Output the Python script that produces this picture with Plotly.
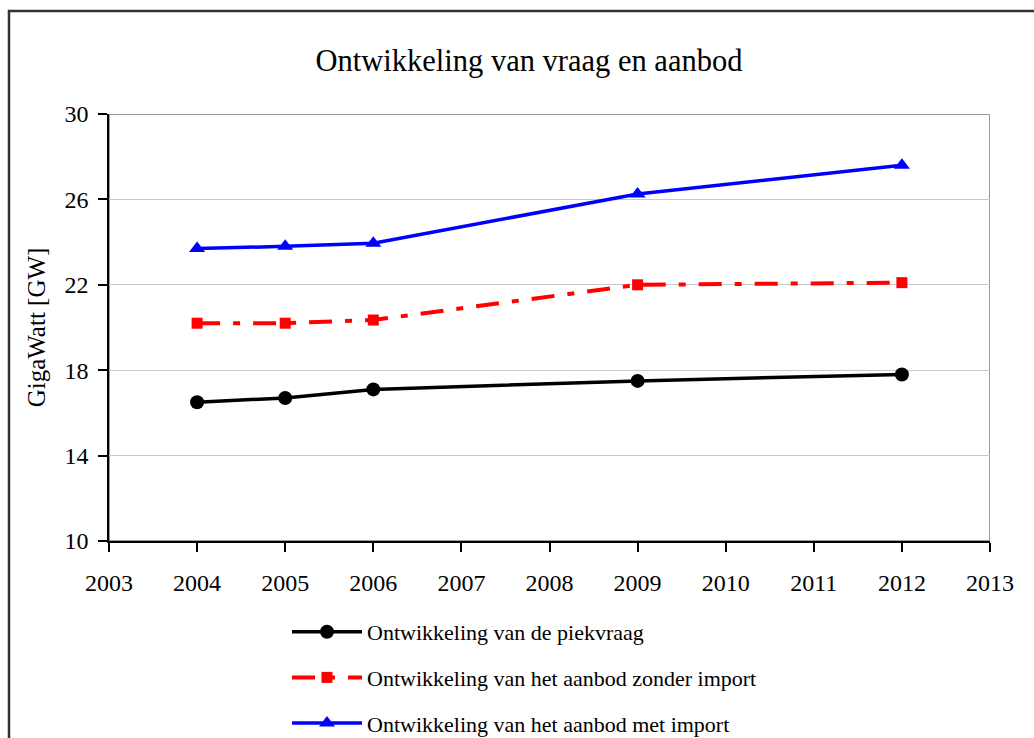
import plotly.graph_objects as go

years = [2004, 2005, 2006, 2009, 2012]
piekvraag = [16.5, 16.7, 17.1, 17.5, 17.8]
aanbod_zonder = [20.2, 20.2, 20.35, 22.0, 22.1]
aanbod_met = [23.7, 23.8, 23.95, 26.25, 27.6]

names = [
    "Ontwikkeling van de piekvraag",
    "Ontwikkeling van het aanbod zonder import",
    "Ontwikkeling van het aanbod met import",
]
title_text = "Ontwikkeling van vraag en aanbod"
y_title = "GigaWatt [GW]"
x_ticks = list(range(2003, 2014))
y_ticks = [10, 14, 18, 22, 26, 30]

FONT = "Liberation Serif"

W, H = 1034, 738
L, R, T, B = 109, 990, 114, 541

fig = go.Figure()
fig.add_trace(go.Scatter(
    x=years, y=piekvraag, name=names[0], mode="lines+markers", legendgroup="a",
    line=dict(color="black", width=3.5),
    marker=dict(symbol="circle", size=14, color="black"),
))
fig.add_trace(go.Scatter(
    x=years, y=aanbod_zonder, name=names[1], mode="lines+markers", legendgroup="b",
    line=dict(color="#ff0000", width=4, dash="23px,13px,7px,13px"),
    marker=dict(symbol="square", size=11, color="#ff0000"),
))
fig.add_trace(go.Scatter(
    x=years, y=aanbod_met, name=names[2], mode="lines+markers", legendgroup="c",
    line=dict(color="#0000ff", width=3.5),
    marker=dict(symbol="triangle-up", size=14, color="#0000ff"),
))

pw = R - L
ph = B - T
def px_x(p):
    return (p - L) / pw
def px_y(p):
    return (B - p) / ph

shapes = [
    dict(type="rect", xref="x", yref="y", x0=2003, x1=2013, y0=10, y1=30,
         line=dict(color="#999999", width=2), layer="below"),
    dict(type="rect", xref="paper", yref="paper",
         x0=px_x(9), x1=px_x(1080), y0=px_y(800), y1=px_y(11),
         line=dict(color="#333333", width=2.5), layer="below"),
]

fig.update_layout(
    width=W, height=H,
    margin=dict(l=L, r=W - R, t=T, b=H - B, autoexpand=False),
    paper_bgcolor="white", plot_bgcolor="white",
    font=dict(family=FONT, size=22, color="black"),
    title=dict(text=title_text, x=529 / W, xanchor="center",
               y=1 - 60 / H, yanchor="middle", yref="container",
               font=dict(family=FONT, size=30.5, color="black")),
    showlegend=True,
    legend=dict(x=px_x(287), xanchor="left", y=px_y(611), yanchor="top",
                font=dict(family=FONT, size=22, color="black"),
                tracegroupgap=14, itemwidth=70, bgcolor="rgba(0,0,0,0)"),
    shapes=shapes,
)
fig.update_xaxes(
    range=[2003, 2013], tickvals=x_ticks, ticktext=[str(v) for v in x_ticks],
    showgrid=False, zeroline=False, showline=True, linecolor="black", linewidth=1.5,
    ticks="outside", ticklen=9, tickcolor="black", tickwidth=1.5,
    tickfont=dict(family=FONT, size=24, color="black"), ticklabelstandoff=10,
)
fig.update_yaxes(
    range=[10, 30], tickvals=y_ticks, ticktext=[str(v) for v in y_ticks],
    showgrid=True, gridcolor="#c8c8c8", gridwidth=1.2, zeroline=False,
    showline=True, linecolor="black", linewidth=1.5,
    ticks="outside", ticklen=9, tickcolor="black", tickwidth=1.5,
    tickfont=dict(family=FONT, size=24, color="black"), ticklabelstandoff=5,
    title=dict(text=y_title, font=dict(family=FONT, size=25, color="black"), standoff=12),
)

fig.write_html("out.html", config={"displayModeBar": False},
               post_script="document.body.style.margin='0';document.body.style.overflow='hidden';")
